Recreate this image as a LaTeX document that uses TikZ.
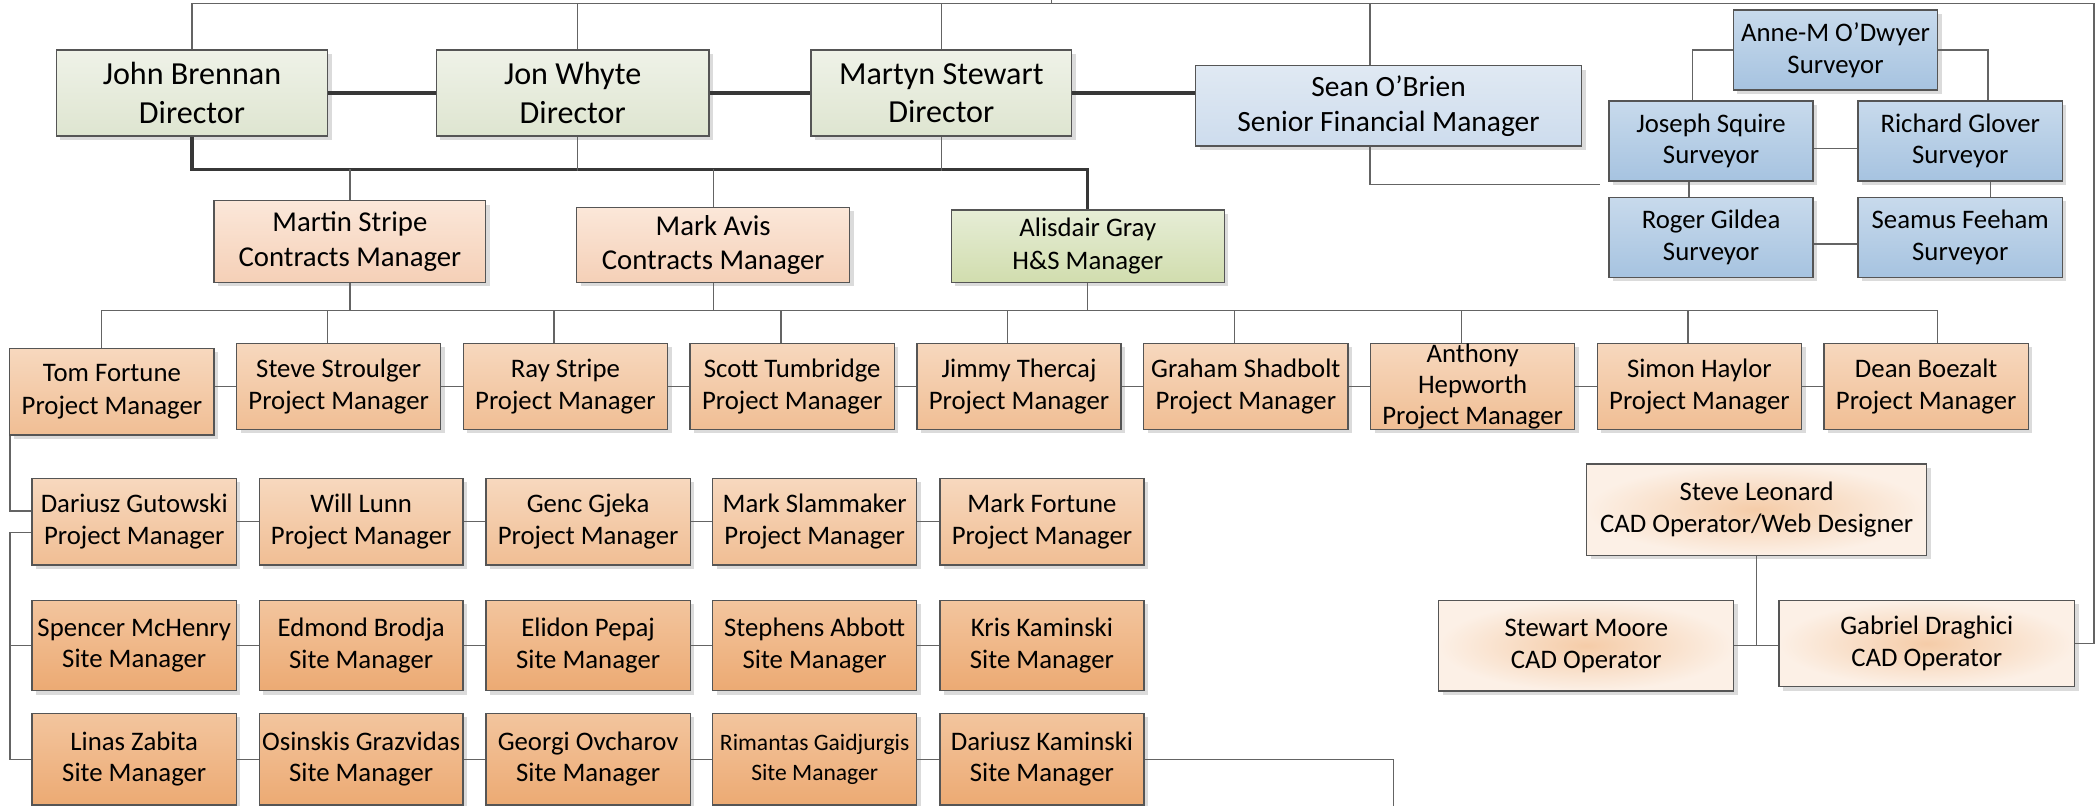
\documentclass[tikz,border=0pt]{standalone}
\usepackage{fontspec}
\setmainfont{Carlito}
\usetikzlibrary{shadows}
\definecolor{dirT}{RGB}{239,242,232}
\definecolor{dirB}{RGB}{222,229,208}
\definecolor{ctrT}{RGB}{251,231,217}
\definecolor{ctrB}{RGB}{245,208,183}
\definecolor{hsT}{RGB}{230,237,214}
\definecolor{hsB}{RGB}{209,221,174}
\definecolor{pmT}{RGB}{247,216,190}
\definecolor{pmB}{RGB}{240,190,148}
\definecolor{smT}{RGB}{243,197,158}
\definecolor{smB}{RGB}{236,170,115}
\definecolor{svT}{RGB}{200,218,236}
\definecolor{svB}{RGB}{166,195,224}
\definecolor{sfT}{RGB}{224,233,243}
\definecolor{sfB}{RGB}{205,220,237}
\definecolor{cadIn}{RGB}{245,204,168}
\definecolor{cadOut}{RGB}{252,240,230}
\definecolor{boxline}{RGB}{85,85,85}
\definecolor{connline}{RGB}{100,100,100}
\definecolor{thickline}{RGB}{55,55,55}
\newcommand\orgbox[7]{\node[#2, minimum width={(#5-#3)*0.5pt}, minimum height={(#6-#4)*0.5pt}] (#1) at ({(#3+#5)/2},{(#4+#6)/2}) {#7};}
\tikzset{
  basebox/.style={draw=boxline, line width=0.5pt, inner sep=0pt, align=center, text=black,
    drop shadow={shadow xshift=1.5pt, shadow yshift=-1.5pt, fill=black!14, opacity=1}},
  dirbox/.style={basebox, top color=dirT, bottom color=dirB, font=\fontsize{12}{14.3}\selectfont},
  sfbox/.style={basebox, top color=sfT, bottom color=sfB, font=\fontsize{11}{13.1}\selectfont},
  svbox/.style={basebox, top color=svT, bottom color=svB, font=\fontsize{10}{11.8}\selectfont},
  ctrbox/.style={basebox, top color=ctrT, bottom color=ctrB, font=\fontsize{10.75}{12.8}\selectfont},
  hsbox/.style={basebox, top color=hsT, bottom color=hsB, font=\fontsize{10}{12.5}\selectfont},
  pmbox/.style={basebox, top color=pmT, bottom color=pmB, font=\fontsize{10}{12.1}\selectfont},
  smbox/.style={basebox, top color=smT, bottom color=smB, font=\fontsize{10}{11.8}\selectfont},
  cadbox/.style={basebox, inner color=cadIn, outer color=cadOut, font=\fontsize{10}{12.1}\selectfont},
  conn/.style={draw=connline, line width=0.5pt},
  thickconn/.style={draw=thickline, line width=1.2pt},
}
\begin{document}
\begin{tikzpicture}[x=0.5pt,y=-0.5pt]
\useasboundingbox (0,0) rectangle (1568,602);
% directors
\orgbox{jb}{dirbox}{42}{37.4}{245}{101.6}{John Brennan\\Director}
\orgbox{jw}{dirbox}{326}{37.4}{530}{101.6}{Jon Whyte\\Director}
\orgbox{ms}{dirbox}{606}{37.4}{801}{101.6}{Martyn Stewart\\Director}
\orgbox{so}{sfbox}{893.5}{49}{1182}{109}{Sean O’Brien\\Senior Financial Manager}
% surveyors
\orgbox{am}{svbox}{1295.5}{7.5}{1448.2}{67.3}{Anne-M O’Dwyer\\Surveyor}
\orgbox{js}{svbox}{1202.6}{75.5}{1355}{135.3}{Joseph Squire\\Surveyor}
\orgbox{rgl}{svbox}{1388.7}{75.5}{1541.4}{135.3}{Richard Glover\\Surveyor}
\orgbox{rgi}{svbox}{1202.6}{147.5}{1355}{207.3}{Roger Gildea\\Surveyor}
\orgbox{sf}{svbox}{1388.7}{147.5}{1541.4}{207.3}{Seamus Feeham\\Surveyor}
% contracts
\orgbox{mst}{ctrbox}{160}{150}{363}{211}{Martin Stripe\\Contracts Manager}
\orgbox{mav}{ctrbox}{431}{155}{635}{211}{Mark Avis\\Contracts Manager}
\orgbox{ag}{hsbox}{711}{157}{915}{211}{Alisdair Gray\\H\&S Manager}
% project managers row
\orgbox{tf}{pmbox}{7.3}{260.4}{160}{325.1}{Tom Fortune\\Project Manager}
\orgbox{ss}{pmbox}{176.8}{256.6}{329.4}{320.9}{Steve Stroulger\\Project Manager}
\orgbox{rs}{pmbox}{346.3}{256.6}{498.9}{320.9}{Ray Stripe\\Project Manager}
\orgbox{st}{pmbox}{515.8}{256.6}{668.4}{320.9}{Scott Tumbridge\\Project Manager}
\orgbox{jt}{pmbox}{685.3}{256.6}{837.9}{320.9}{Jimmy Thercaj\\Project Manager}
\orgbox{gs}{pmbox}{854.8}{256.6}{1007.4}{320.9}{Graham Shadbolt\\Project Manager}
\orgbox{ah}{pmbox}{1024.3}{256.6}{1176.9}{320.9}{}
\node[font=\fontsize{10}{11.65}\selectfont, align=center, inner sep=0pt] (aht) at (ah.center) {Anthony\\Hepworth\\Project Manager};
\orgbox{sh}{pmbox}{1193.8}{256.6}{1346.4}{320.9}{Simon Haylor\\Project Manager}
\orgbox{db}{pmbox}{1363.3}{256.6}{1515.9}{320.9}{Dean Boezalt\\Project Manager}
% row A
\orgbox{dg}{pmbox}{24}{357.5}{176.7}{422.3}{Dariusz Gutowski\\Project Manager}
\orgbox{wl}{pmbox}{193.9}{357.5}{346}{422.3}{Will Lunn\\Project Manager}
\orgbox{gg}{pmbox}{363.2}{357.5}{515.9}{422.3}{Genc Gjeka\\Project Manager}
\orgbox{msl}{pmbox}{532.5}{357.5}{685.2}{422.3}{Mark Slammaker\\Project Manager}
\orgbox{mf}{pmbox}{702.4}{357.5}{855.1}{422.3}{Mark Fortune\\Project Manager}
% row B
\orgbox{smh}{smbox}{24}{448.7}{176.7}{516.2}{Spencer McHenry\\Site Manager}
\orgbox{eb}{smbox}{193.9}{448.7}{346}{516.2}{Edmond Brodja\\Site Manager}
\orgbox{ep}{smbox}{363.2}{448.7}{515.9}{516.2}{Elidon Pepaj\\Site Manager}
\orgbox{sa}{smbox}{532.5}{448.7}{685.2}{516.2}{Stephens Abbott\\Site Manager}
\orgbox{kk}{smbox}{702.4}{448.7}{855.1}{516.2}{Kris Kaminski\\Site Manager}
% row C
\orgbox{lz}{smbox}{24}{533.1}{176.7}{601.7}{Linas Zabita\\Site Manager}
\orgbox{og}{smbox}{193.9}{533.1}{346}{601.7}{Osinskis Grazvidas\\Site Manager}
\orgbox{gov}{smbox}{363.2}{533.1}{515.9}{601.7}{Georgi Ovcharov\\Site Manager}
\orgbox{rga}{smbox, font=\fontsize{8.8}{11.3}\selectfont}{532.5}{533.1}{685.2}{601.7}{Rimantas Gaidjurgis\\Site Manager}
\orgbox{dk}{smbox}{702.4}{533.1}{855.1}{601.7}{Dariusz Kaminski\\Site Manager}
% CAD group
\orgbox{sl}{cadbox}{1185.8}{346.8}{1440}{415}{Steve Leonard\\CAD Operator/Web Designer}
\orgbox{stm}{cadbox}{1075.3}{448.7}{1295.8}{516.4}{Stewart Moore\\CAD Operator}
\orgbox{gd}{cadbox}{1329.6}{448.7}{1550.5}{513.2}{Gabriel Draghici\\CAD Operator}
% coordinates
\coordinate (tr) at (1565,2.5);
\coordinate (tick) at (786,0);
\coordinate (bus1) at (0,126.5);
\coordinate (pmbus) at (0,232);
\coordinate (sx) at (1024,0);
\coordinate (sfend) at (1196,138);
\coordinate (dkend) at (1041.5,602);
% top connectors
\draw[conn] (jb.north) |- (tr) |- (gd.east);
\draw[conn] (tick) -- (tick |- tr);
\draw[conn] ([xshift=1.75pt]jw.north) -- ([xshift=1.75pt]jw.north |- tr);
\draw[conn] (ms.north) -- (ms.north |- tr);
\draw[conn] (sx |- so.north) -- (sx |- tr);
\draw[conn] (sx |- so.south) |- (sfend);
% thick director links
\draw[thickconn] (jb.east) -- (jw.west);
\draw[thickconn] (jw.east) -- (ms.west);
\draw[thickconn] (ms.east) -- (ms.east -| so.west);
\draw[thickconn] (jb.south) |- (bus1 -| ag.north) -- (ag.north);
\draw[conn] ([xshift=1.75pt]jw.south) -- ([xshift=1.75pt,yshift=-0.6pt]jw.south |- bus1);
\draw[conn] (ms.south) -- ([yshift=-0.6pt]ms.south |- bus1);
\draw[conn] (mst.north) -- (mst.north |- bus1);
\draw[conn] (mav.north) -- (mav.north |- bus1);
% surveyors
\draw[conn] (am.west) -| ([xshift=-7pt]js.north);
\draw[conn] (am.east) -| ([xshift=10.4pt]rgl.north);
\draw[conn] ([yshift=-2.8pt]js.east) -- ([yshift=-2.8pt]rgl.west);
\draw[conn] ([yshift=-2.5pt]rgi.east) -- ([yshift=-2.5pt]sf.west);
\draw[conn] ([xshift=-8.3pt]js.south) -- ([xshift=-8.3pt]rgi.north);
\draw[conn] ([xshift=11.4pt]rgl.south) -- ([xshift=11.4pt]sf.north);
% PM bus
\draw[conn] (mst.south) -- (mst.south |- pmbus);
\draw[conn] (mav.south) -- (mav.south |- pmbus);
\draw[conn] (ag.south) -- (ag.south |- pmbus);
\draw[conn] ([xshift=-3.8pt]tf.north |- pmbus) -- ([xshift=4.3pt]db.north |- pmbus);
\draw[conn] ([xshift=-3.8pt]tf.north) -- ([xshift=-3.8pt]tf.north |- pmbus);
\foreach \n in {ss,rs,st,jt,gs,ah,sh}{
  \draw[conn] ([xshift=-4.25pt]\n.north) -- ([xshift=-4.25pt]\n.north |- pmbus);
}
\draw[conn] ([xshift=4.3pt]db.north) -- ([xshift=4.3pt]db.north |- pmbus);
\draw[conn] (tf.east |- ss.west) -- (ss.west);
\draw[conn] (ss.east) -- (rs.west);
\draw[conn] (rs.east) -- (st.west);
\draw[conn] (st.east) -- (jt.west);
\draw[conn] (jt.east) -- (gs.west);
\draw[conn] (gs.east) -- (ah.west);
\draw[conn] (ah.east) -- (sh.west);
\draw[conn] (sh.east) -- (db.west);
% Tom to lower rows
\draw[conn] ([xshift=0.35pt]tf.south west) |- ([yshift=4pt]dg.west);
\draw[conn] ([yshift=-4pt]dg.west) -| ([xshift=0.35pt]lz.west -| tf.south west) -- (lz.west);
\draw[conn] ([xshift=0.35pt]smh.west -| tf.south west) -- (smh.west);
% row links
\draw[conn] (dg.east) -- (wl.west);
\draw[conn] (wl.east) -- (gg.west);
\draw[conn] (gg.east) -- (msl.west);
\draw[conn] (msl.east) -- (mf.west);
\draw[conn] (smh.east) -- (eb.west);
\draw[conn] (eb.east) -- (ep.west);
\draw[conn] (ep.east) -- (sa.west);
\draw[conn] (sa.east) -- (kk.west);
\draw[conn] (lz.east) -- (og.west);
\draw[conn] (og.east) -- (gov.west);
\draw[conn] (gov.east) -- (rga.west);
\draw[conn] (rga.east) -- (dk.west);
\draw[conn] (dk.east) -| (dkend);
% CAD group
\draw[conn] (sl.south) -- (sl.south |- stm.east);
\draw[conn] (stm.east) -- (stm.east -| gd.west);
\end{tikzpicture}
\end{document}
